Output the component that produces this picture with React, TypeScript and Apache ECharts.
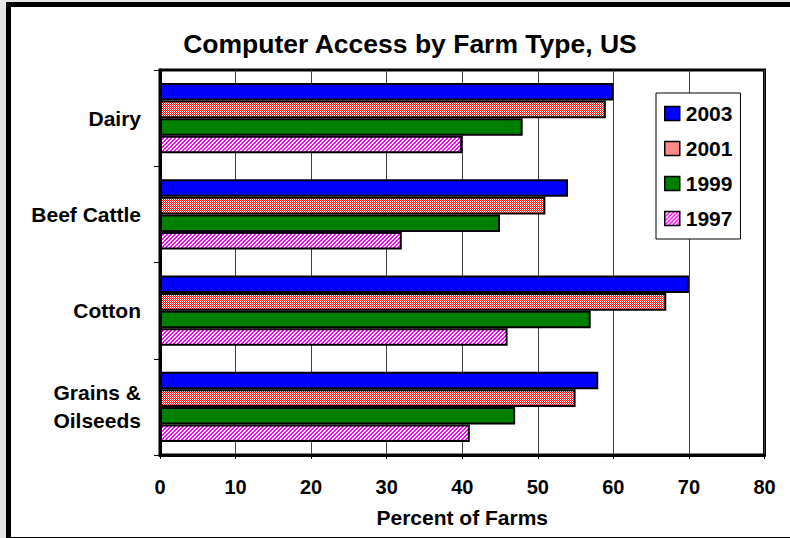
import React, { useEffect, useRef } from "react";
import * as echarts from "echarts";

const categories = ["Dairy", "Beef Cattle", "Cotton", "Grains &\nOilseeds"];
const years = ["2003", "2001", "1999", "1997"];
const values2003 = [60, 54, 70, 58];
const values2001 = [59, 51, 67, 55];
const values1999 = [48, 45, 57, 47];
const values1997 = [40, 32, 46, 41];
const xTicks = [0, 10, 20, 30, 40, 50, 60, 70, 80];

const FONT = "Arial, 'Liberation Sans', sans-serif";

function makePattern(kind: "check" | "diag", color: string): HTMLCanvasElement {
  const c = document.createElement("canvas");
  c.width = 4;
  c.height = 4;
  const ctx = c.getContext("2d")!;
  ctx.fillStyle = "#ffffff";
  ctx.fillRect(0, 0, 4, 4);
  ctx.fillStyle = color;
  for (let x = 0; x < 4; x++) {
    for (let y = 0; y < 4; y++) {
      const on = kind === "check" ? (x + y) % 2 === 0 : (x + y) % 4 < 2;
      if (on) ctx.fillRect(x, y, 1, 1);
    }
  }
  return c;
}

export default function App() {
  const ref = useRef<HTMLDivElement>(null);
  useEffect(() => {
    if (!ref.current) return;
    const chart = echarts.init(ref.current, undefined, { renderer: "svg" });
    const red = makePattern("check", "#ff1010");
    const mag = makePattern("diag", "#ff00ff");
    const fills: any[] = [
      "#0000ff",
      { image: red, repeat: "repeat" },
      "#008000",
      { image: mag, repeat: "repeat" },
    ];
    const seriesValues = [values2003, values2001, values1999, values1997];
    chart.setOption({
      animation: false,
      backgroundColor: "#ffffff",
      title: {
        text: "Computer Access by Farm Type, US",
        left: 405,
        top: 25,
        textAlign: "center",
        textStyle: { fontFamily: FONT, fontWeight: "bold", fontSize: 26.5, color: "#000" },
      },
      legend: {
        orient: "vertical",
        left: 656,
        top: 93,
        padding: [10, 8, 10, 8],
        itemGap: 14,
        itemWidth: 15,
        itemHeight: 14,
        icon: "rect",
        backgroundColor: "#ffffff",
        borderColor: "#000",
        borderWidth: 1,
        data: years,
        textStyle: { fontFamily: FONT, fontWeight: "bold", fontSize: 21, color: "#000", padding: [0, 0, 0, 1] },
        itemStyle: { borderColor: "#000", borderWidth: 1.5 },
      },
      grid: {
        left: 160,
        right: 25.5,
        top: 70,
        bottom: 83,
        show: true,
        borderColor: "#000",
        borderWidth: 3,
        backgroundColor: "#fff",
      },
      xAxis: {
        type: "value",
        min: xTicks[0],
        max: xTicks[xTicks.length - 1],
        interval: 10,
        name: "Percent of Farms",
        nameLocation: "middle",
        nameGap: 52,
        nameTextStyle: { fontFamily: FONT, fontWeight: "bold", fontSize: 21, color: "#000" },
        axisLine: { show: true, lineStyle: { color: "#000", width: 3 } },
        axisTick: { show: true, length: 4, lineStyle: { color: "#000", width: 1 } },
        axisLabel: { margin: 22, fontFamily: FONT, fontWeight: "bold", fontSize: 20, color: "#000" },
        splitLine: { show: true, lineStyle: { color: "#404040", width: 1 } },
      },
      yAxis: {
        type: "category",
        data: categories,
        inverse: true,
        axisLine: { show: true, lineStyle: { color: "#000", width: 3 } },
        axisTick: { show: true, length: 6, lineStyle: { color: "#000", width: 1 } },
        axisLabel: {
          margin: 19,
          fontFamily: FONT,
          fontWeight: "bold",
          fontSize: 21,
          lineHeight: 28,
          color: "#000",
        },
        splitLine: { show: false },
      },
      graphic: [
        { type: "rect", shape: { x: 0, y: 0, width: 790, height: 2 }, style: { fill: "#e6e6e6" }, silent: true },
        { type: "rect", shape: { x: 0, y: 0, width: 6, height: 538 }, style: { fill: "#e6e6e6" }, silent: true },
        { type: "rect", shape: { x: 6, y: 2, width: 784, height: 5 }, style: { fill: "#000" }, silent: true },
        { type: "rect", shape: { x: 6, y: 2, width: 5, height: 536 }, style: { fill: "#000" }, silent: true },
        { type: "rect", shape: { x: 6, y: 537, width: 784, height: 1 }, style: { fill: "#000" }, silent: true },
      ],
      series: years.map((y, i) => ({
        name: y,
        type: "bar",
        data: seriesValues[i],
        barGap: "0%",
        barCategoryGap: "27%",
        itemStyle: { color: fills[i], borderColor: "#000", borderWidth: 2 },
      })),
    });
    return () => chart.dispose();
  }, []);
  return (
    <div
      ref={ref}
      style={{ position: "absolute", left: 0, top: 0, width: 790, height: 538 }}
    />
  );
}
